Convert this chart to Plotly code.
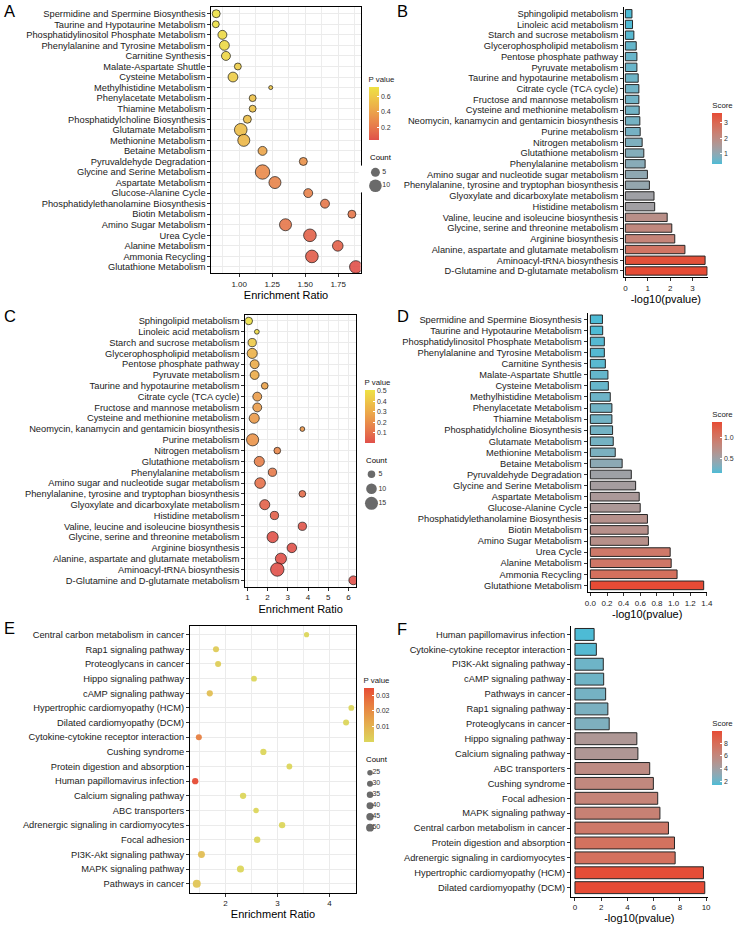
import plotly.graph_objects as go

W, H = 743, 928
FONT = "Liberation Sans, Arial, Helvetica, sans-serif"
TXT = "#1a1a1a"

# ---------------- data ----------------
a_pathways = ["Spermidine and Spermine Biosynthesis", "Taurine and Hypotaurine Metabolism",
              "Phosphatidylinositol Phosphate Metabolism", "Phenylalanine and Tyrosine Metabolism",
              "Carnitine Synthesis", "Malate-Aspartate Shuttle", "Cysteine Metabolism",
              "Methylhistidine Metabolism", "Phenylacetate Metabolism", "Thiamine Metabolism",
              "Phosphatidylcholine Biosynthesis", "Glutamate Metabolism", "Methionine Metabolism",
              "Betaine Metabolism", "Pyruvaldehyde Degradation", "Glycine and Serine Metabolism",
              "Aspartate Metabolism", "Glucose-Alanine Cycle", "Phosphatidylethanolamine Biosynthesis",
              "Biotin Metabolism", "Amino Sugar Metabolism", "Urea Cycle", "Alanine Metabolism",
              "Ammonia Recycling", "Glutathione Metabolism"]
a_ratio = [0.826, 0.823, 0.873, 0.888, 0.90, 0.99, 0.953, 1.239, 1.102, 1.102, 1.062, 1.012, 1.035,
           1.177, 1.486, 1.177, 1.271, 1.523, 1.65, 1.854, 1.351, 1.536, 1.747, 1.551, 1.884]
a_count = [4, 3, 5, 6, 5, 3, 6, 1, 3, 3, 4, 10, 9, 5, 4, 13, 9, 5, 5, 4, 9, 10, 7, 10, 10]
a_pvalue = [0.716, 0.711, 0.679, 0.679, 0.661, 0.615, 0.608, 0.577, 0.551, 0.551, 0.541, 0.531, 0.502,
            0.415, 0.322, 0.286, 0.259, 0.252, 0.206, 0.202, 0.200, 0.110, 0.107, 0.091, 0.043]
d_score = [0.145, 0.148, 0.168, 0.168, 0.180, 0.211, 0.216, 0.239, 0.259, 0.259, 0.267, 0.275, 0.299,
           0.382, 0.492, 0.544, 0.587, 0.599, 0.686, 0.694, 0.698, 0.959, 0.971, 1.042, 1.362]

b_pathways = ["Sphingolipid metabolism", "Linoleic acid metabolism", "Starch and sucrose metabolism",
              "Glycerophospholipid metabolism", "Pentose phosphate pathway", "Pyruvate metabolism",
              "Taurine and hypotaurine metabolism", "Citrate cycle (TCA cycle)",
              "Fructose and mannose metabolism", "Cysteine and methionine metabolism",
              "Neomycin, kanamycin and gentamicin biosynthesis", "Purine metabolism",
              "Nitrogen metabolism", "Glutathione metabolism", "Phenylalanine metabolism",
              "Amino sugar and nucleotide sugar metabolism",
              "Phenylalanine, tyrosine and tryptophan biosynthesis",
              "Glyoxylate and dicarboxylate metabolism", "Histidine metabolism",
              "Valine, leucine and isoleucine biosynthesis", "Glycine, serine and threonine metabolism",
              "Arginine biosynthesis", "Alanine, aspartate and glutamate metabolism",
              "Aminoacyl-tRNA biosynthesis", "D-Glutamine and D-glutamate metabolism"]
b_score = [0.294, 0.32, 0.38, 0.485, 0.515, 0.515, 0.573, 0.603, 0.603, 0.617, 0.647, 0.662, 0.75,
           0.824, 0.882, 0.985, 1.073, 1.279, 1.309, 1.867, 2.073, 2.206, 2.66, 3.56, 3.65]
c_ratio = [1.07, 1.47, 1.24, 1.24, 1.36, 1.36, 1.86, 1.49, 1.49, 1.34, 3.72, 1.26, 2.48, 1.59, 2.24,
           1.63, 3.72, 1.86, 2.34, 3.72, 2.25, 3.20, 2.66, 2.48, 6.24]
c_count = [5, 2, 6, 9, 7, 7, 4, 7, 7, 9, 2, 13, 4, 9, 6, 10, 4, 9, 6, 6, 11, 8, 11, 16, 7]
c_pvalue = [0.508, 0.479, 0.417, 0.327, 0.305, 0.305, 0.267, 0.249, 0.249, 0.242, 0.225, 0.218, 0.178,
            0.150, 0.131, 0.104, 0.0845, 0.0526, 0.0491, 0.0136, 0.00845, 0.00622, 0.00219,
            0.000275, 0.000224]

e_pathways = ["Central carbon metabolism in cancer", "Rap1 signaling pathway", "Proteoglycans in cancer",
              "Hippo signaling pathway", "cAMP signaling pathway", "Hypertrophic cardiomyopathy (HCM)",
              "Dilated cardiomyopathy (DCM)", "Cytokine-cytokine receptor interaction",
              "Cushing syndrome", "Protein digestion and absorption", "Human papillomavirus infection",
              "Calcium signaling pathway", "ABC transporters", "Adrenergic signaling in cardiomyocytes",
              "Focal adhesion", "PI3K-Akt signaling pathway", "MAPK signaling pathway",
              "Pathways in cancer"]
e_ratio = [3.56, 1.82, 1.86, 2.55, 1.70, 4.42, 4.32, 1.49, 2.73, 3.23, 1.42, 2.34, 2.59, 3.09, 2.61,
           1.54, 2.29, 1.45]
e_count = [22, 30, 30, 28, 32, 27, 30, 30, 32, 28, 33, 33, 25, 34, 35, 40, 42, 52]
e_pvalue = [7.4e-8, 0.0031, 0.0025, 1.9e-5, 0.0065, 1.6e-10, 1.3e-10, 0.0234, 1.0e-6, 2.6e-8, 0.0347,
            1.6e-5, 2.0e-6, 2.3e-8, 4.9e-7, 0.0069, 3.3e-7, 0.0046]

f_pathways = ["Human papillomavirus infection", "Cytokine-cytokine receptor interaction",
              "PI3K-Akt signaling pathway", "cAMP signaling pathway", "Pathways in cancer",
              "Rap1 signaling pathway", "Proteoglycans in cancer", "Hippo signaling pathway",
              "Calcium signaling pathway", "ABC transporters", "Cushing syndrome", "Focal adhesion",
              "MAPK signaling pathway", "Central carbon metabolism in cancer",
              "Protein digestion and absorption", "Adrenergic signaling in cardiomyocytes",
              "Hypertrophic cardiomyopathy (HCM)", "Dilated cardiomyopathy (DCM)"]
f_score = [1.46, 1.63, 2.16, 2.19, 2.34, 2.51, 2.61, 4.72, 4.80, 5.70, 5.98, 6.31, 6.48, 7.13, 7.59,
           7.64, 9.80, 9.90]

a_size_breaks = [5, 10]
c_size_breaks = [5, 10, 15]
e_size_breaks = [25, 30, 35, 40, 45, 50]

# ---------------- colour helpers (CIELAB ramp like ggplot) ----------------
def _hex(h):
    h = h.lstrip("#")
    return [int(h[i:i + 2], 16) for i in (0, 2, 4)]

def _lin(c):
    c = c / 255.0
    return c / 12.92 if c <= 0.04045 else ((c + 0.055) / 1.055) ** 2.4

def _gam(c):
    c = 12.92 * c if c <= 0.0031308 else 1.055 * c ** (1 / 2.4) - 0.055
    return max(0, min(255, round(c * 255)))

_WN = (0.95047, 1.0, 1.08883)

def _f(t):
    d = 6 / 29
    return t ** (1 / 3) if t > d ** 3 else t / (3 * d * d) + 4 / 29

def _fi(t):
    d = 6 / 29
    return t ** 3 if t > d else 3 * d * d * (t - 4 / 29)

def to_lab(h):
    r, g, b = [_lin(v) for v in _hex(h)]
    X = 0.4124 * r + 0.3576 * g + 0.1805 * b
    Y = 0.2126 * r + 0.7152 * g + 0.0722 * b
    Z = 0.0193 * r + 0.1192 * g + 0.9505 * b
    fx_, fy_, fz_ = _f(X / _WN[0]), _f(Y / _WN[1]), _f(Z / _WN[2])
    return (116 * fy_ - 16, 500 * (fx_ - fy_), 200 * (fy_ - fz_))

def from_lab(L, a, b):
    fy_ = (L + 16) / 116
    fx_ = fy_ + a / 500
    fz_ = fy_ - b / 200
    X, Y, Z = _WN[0] * _fi(fx_), _WN[1] * _fi(fy_), _WN[2] * _fi(fz_)
    r = 3.2406 * X - 1.5372 * Y - 0.4986 * Z
    g = -0.9689 * X + 1.8758 * Y + 0.0415 * Z
    bb = 0.0557 * X - 0.2040 * Y + 1.0570 * Z
    return "rgb(%d,%d,%d)" % (_gam(r), _gam(g), _gam(bb))

def lab_scale(c0, c1, n=15):
    l0, l1 = to_lab(c0), to_lab(c1)
    out = []
    for i in range(n):
        t = i / (n - 1)
        out.append([t, from_lab(*[l0[k] + (l1[k] - l0[k]) * t for k in range(3)])])
    return out

SCORE_SCALE = lab_scale("#4DBBD5", "#E64B35")
P_SCALE_AC = lab_scale("#E0504A", "#EEE244")   # low p red -> high p yellow
P_SCALE_E = lab_scale("#DCD65C", "#E64B35")    # low p yellow -> high p red

# ---------------- geometry helpers ----------------
def fx(px):
    return px / W

def fy(py):
    return 1 - py / H

def xdom(a, b):
    return [fx(a), fx(b)]

def ydom(top, bot):
    return [fy(bot), fy(top)]

def cbar(title, x_px, top_px, len_px, tickvals, ticktext=None):
    d = dict(title=dict(text=title, side="top", font=dict(size=7.8, family=FONT, color=TXT)),
             x=fx(x_px), xanchor="left", y=fy(top_px), yanchor="top",
             len=len_px, lenmode="pixels", thickness=10, thicknessmode="pixels",
             xpad=0, ypad=0, outlinewidth=0, ticks="inside", ticklen=2, tickcolor="white",
             tickvals=tickvals, tickfont=dict(size=7, family=FONT, color="#333"))
    if ticktext:
        d["ticktext"] = ticktext
    return d

fig = go.Figure()

def cat_axis(cats, dom_top, dom_bot, grid, mirror):
    n = len(cats)
    return dict(domain=ydom(dom_top, dom_bot), type="category", categoryorder="array",
                categoryarray=list(reversed(cats)), range=[-0.6, n - 1 + 0.6],
                tickmode="array", tickvals=list(cats), ticktext=list(cats),
                showgrid=grid, gridcolor="#EBEBEB", gridwidth=1, zeroline=False,
                showline=True, mirror=mirror, linecolor="black", linewidth=1,
                ticks="outside", ticklen=3, tickcolor="#333", tickwidth=1,
                tickfont=dict(size=9.3, family=FONT, color=TXT), fixedrange=True)

def num_axis(dom_l, dom_r, rng, title, mirror, grid, **kw):
    d = dict(domain=xdom(dom_l, dom_r), range=rng, zeroline=False,
             showline=True, mirror=mirror, linecolor="black", linewidth=1,
             ticks="outside", ticklen=3, tickcolor="#333", tickwidth=1,
             tickfont=dict(size=8, family=FONT, color=TXT), showgrid=grid,
             gridcolor="#EBEBEB", gridwidth=1,
             title=dict(text=title, font=dict(size=11, family=FONT, color="black"), standoff=3))
    d.update(kw)
    return d

# ---------------- panel A ----------------
fig.add_trace(go.Scatter(
    x=a_ratio, y=a_pathways, mode="markers", xaxis="x", yaxis="y", showlegend=False,
    marker=dict(size=[4.0 * c ** 0.5 for c in a_count], color=a_pvalue, colorscale=P_SCALE_AC,
                cmin=min(a_pvalue), cmax=max(a_pvalue), opacity=0.9,
                line=dict(color="black", width=0.7),
                colorbar=cbar("P value", 370, 73, 67, [0.2, 0.4, 0.6]))))
# ---------------- panel B ----------------
fig.add_trace(go.Bar(
    x=b_score, y=b_pathways, orientation="h", xaxis="x2", yaxis="y2", width=0.78, showlegend=False,
    marker=dict(color=b_score, colorscale=SCORE_SCALE, cmin=min(b_score), cmax=max(b_score),
                line=dict(color="#262626", width=1),
                colorbar=cbar("Score", 718, 99, 65, [1, 2, 3]))))
# ---------------- panel C ----------------
fig.add_trace(go.Scatter(
    x=c_ratio, y=b_pathways, mode="markers", xaxis="x3", yaxis="y3", showlegend=False,
    marker=dict(size=[3.36 * c ** 0.5 for c in c_count], color=c_pvalue, colorscale=P_SCALE_AC,
                cmin=min(c_pvalue), cmax=max(c_pvalue), opacity=0.9,
                line=dict(color="black", width=0.7),
                colorbar=cbar("P value", 366, 376, 67, [0.1, 0.2, 0.3, 0.4, 0.5]))))
# ---------------- panel D ----------------
fig.add_trace(go.Bar(
    x=d_score, y=a_pathways, orientation="h", xaxis="x4", yaxis="y4", width=0.78, showlegend=False,
    marker=dict(color=d_score, colorscale=SCORE_SCALE, cmin=min(d_score), cmax=max(d_score),
                line=dict(color="#262626", width=1),
                colorbar=cbar("Score", 718, 408, 65, [0.5, 1.0], ["0.5", "1.0"]))))
# ---------------- panel E ----------------
fig.add_trace(go.Scatter(
    x=e_ratio, y=e_pathways, mode="markers", xaxis="x5", yaxis="y5", showlegend=False,
    marker=dict(size=[1.1 * c ** 0.5 for c in e_count], color=e_pvalue, colorscale=P_SCALE_E,
                cmin=min(e_pvalue), cmax=max(e_pvalue), opacity=0.95, line=dict(width=0),
                colorbar=cbar("P value", 365, 674, 68, [0.01, 0.02, 0.03]))))
# ---------------- panel F ----------------
fig.add_trace(go.Bar(
    x=f_score, y=f_pathways, orientation="h", xaxis="x6", yaxis="y6", width=0.8, showlegend=False,
    marker=dict(color=f_score, colorscale=SCORE_SCALE, cmin=min(f_score), cmax=max(f_score),
                line=dict(color="#262626", width=1),
                colorbar=cbar("Score", 718, 717, 68, [2, 4, 6, 8]))))

# ---------------- size legends (built from the break values) ----------------
def size_legend(breaks, k, xa, ya):
    labels = [str(b) for b in breaks]
    fig.add_trace(go.Scatter(x=[0] * len(breaks), y=labels, mode="markers", xaxis=xa, yaxis=ya,
                             showlegend=False, hoverinfo="skip",
                             marker=dict(size=[k * b ** 0.5 for b in breaks], color="#2b2b2b",
                                         line=dict(width=0))))
    fig.add_trace(go.Scatter(x=[1] * len(breaks), y=labels, mode="text", text=labels,
                             textposition="middle right", xaxis=xa, yaxis=ya, showlegend=False,
                             hoverinfo="skip",
                             textfont=dict(size=7, family=FONT, color="#333")))

size_legend(a_size_breaks, 4.0, "x7", "y7")
size_legend(c_size_breaks, 3.36, "x8", "y8")
size_legend(e_size_breaks, 1.1, "x9", "y9")

def leg_axes(l, r, x0px, x1px, top, bot, labels):
    n = len(labels)
    unit = x1px - x0px
    xr = [-(x0px - l) / unit, (r - x0px) / unit]
    xa = dict(domain=xdom(l, r), range=xr, visible=False, fixedrange=True)
    ya = dict(domain=ydom(top, bot), type="category", categoryorder="array",
              categoryarray=list(reversed(labels)), range=[-0.5, n - 0.5], visible=False,
              fixedrange=True)
    return xa, ya

xa7, ya7 = leg_axes(360, 405, 377, 384, 165.6, 192.4, [str(b) for b in a_size_breaks])
xa8, ya8 = leg_axes(358, 405, 373, 380, 467.0, 510.6, [str(b) for b in c_size_breaks])
xa9, ya9 = leg_axes(358, 405, 371.5, 374, 767.2, 833.2, [str(b) for b in e_size_breaks])

minor_style = dict(showgrid=True, gridcolor="#EDEDED", gridwidth=0.7, ticks="")

layout = dict(
    width=W, height=H, margin=dict(l=0, r=0, t=0, b=0),
    paper_bgcolor="white", plot_bgcolor="white", showlegend=False,
    font=dict(family=FONT, color=TXT),
    # A
    xaxis=num_axis(211, 362, [0.79, 1.92], "Enrichment Ratio", True, True,
                   tick0=1, dtick=0.25, tickformat=".2f", anchor="y",
                   minor=dict(dtick=0.125, tick0=0.875, **minor_style)),
    yaxis=dict(cat_axis(a_pathways, 7.4, 273.3, True, True), anchor="x"),
    # B
    xaxis2=num_axis(628.7, 713.3, [-0.057, 3.675], "-log10(pvalue)", False, False,
                    tickvals=[0, 1, 2, 3], anchor="y2"),
    yaxis2=dict(cat_axis(b_pathways, 7.3, 277.4, False, False), anchor="x2"),
    # C
    xaxis3=num_axis(245.3, 357.3, [0.9, 6.37], "Enrichment Ratio", True, True,
                    tick0=1, dtick=1, anchor="y3",
                    minor=dict(dtick=0.5, tick0=0.5, **minor_style)),
    yaxis3=dict(cat_axis(b_pathways, 314.5, 586.8, True, True), anchor="x3"),
    # D
    xaxis4=num_axis(591.7, 712.5, [-0.034, 1.40], "-log10(pvalue)", False, False,
                    tickvals=[0, 0.2, 0.4, 0.6, 0.8, 1.0, 1.2, 1.4], tickformat=".1f", anchor="y4"),
    yaxis4=dict(cat_axis(a_pathways, 312.7, 592.0, False, False), anchor="x4"),
    # E
    xaxis5=num_axis(189.3, 357.3, [1.32, 4.51], "Enrichment Ratio", True, True,
                    tick0=2, dtick=1, anchor="y5",
                    minor=dict(dtick=0.5, tick0=1.5, **minor_style)),
    yaxis5=dict(cat_axis(e_pathways, 625.9, 892.5, True, True), anchor="x5"),
    # F
    xaxis6=num_axis(575, 713.3, [-0.30, 10.12], "-log10(pvalue)", False, False,
                    tickvals=[0, 2, 4, 6, 8, 10], anchor="y6"),
    yaxis6=dict(cat_axis(f_pathways, 625.5, 896.6, False, False), anchor="x6"),
    xaxis7=dict(xa7, anchor="y7"), yaxis7=dict(ya7, anchor="x7"),
    xaxis8=dict(xa8, anchor="y8"), yaxis8=dict(ya8, anchor="x8"),
    xaxis9=dict(xa9, anchor="y9"), yaxis9=dict(ya9, anchor="x9"),
)
fig.update_layout(**layout)

# ---------------- annotations ----------------
def ann(text, x_px, y_px, size, yanchor="middle"):
    fig.add_annotation(text=text, x=fx(x_px), y=fy(y_px), xref="paper", yref="paper",
                       xanchor="left", yanchor=yanchor, showarrow=False,
                       font=dict(size=size, family=FONT, color="black"))

for letter, xp, yp in [("A", -1, 0), ("B", 397, 0), ("C", -1, 305), ("D", 397, 305),
                       ("E", -1, 617), ("F", 397, 618)]:
    ann(letter, xp, yp, 16.5, yanchor="top")

ann("Count", 369, 157.3, 7.8)
ann("Count", 365, 460.7, 7.8)
ann("Count", 365, 759.3, 7.8)

fig.write_html("out.html")
